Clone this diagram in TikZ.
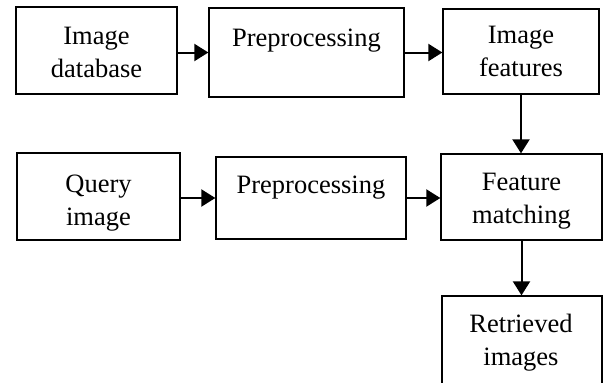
\documentclass[tikz,border=0pt]{standalone}
\usepackage{fontspec}
\setmainfont{Liberation Serif}
\usetikzlibrary{arrows.meta}
\begin{document}
\begin{tikzpicture}[x=1pt,y=1pt,
  box/.style={draw=black,line width=1.3pt,rectangle,inner sep=0pt},
  lbl/.style={anchor=base,text width=160pt,align=center,inner sep=0pt,font=\fontsize{26.5}{33}\selectfont},
  conn/.style={line width=2pt,-{Triangle[length=14pt,width=17pt]}}]
\useasboundingbox (0,0) rectangle (606,-383);
\clip (0,0) rectangle (606,-383);
% boxes
\node[box,minimum width=161pt,minimum height=87pt] (A) at (96.5,-50.5) {};
\node[box,minimum width=195pt,minimum height=89pt] (B) at (306.5,-52.5) {};
\node[box,minimum width=156pt,minimum height=85pt] (C) at (521,-51.5) {};
\node[box,minimum width=163pt,minimum height=87pt] (D) at (98.5,-196.5) {};
\node[box,minimum width=190pt,minimum height=82pt] (E) at (311,-198) {};
\node[box,minimum width=161pt,minimum height=86pt] (F) at (521.5,-197) {};
\node[box,minimum width=160pt,minimum height=92pt] (G) at (522,-342) {};
% labels
\node[lbl] (At) at (96.5,-44) {Image\\database};
\node[lbl] (Bt) at (306.5,-46) {Preprocessing};
\node[lbl] (Ct) at (521,-43) {Image\\features};
\node[lbl] (Dt) at (98.5,-192) {Query\\image};
\node[lbl] (Et) at (311,-193) {Preprocessing};
\node[lbl] (Ft) at (521.5,-190) {Feature\\matching};
\node[lbl] (Gt) at (521,-332) {Retrieved\\images};
% connectors
\draw[conn] (A.east |- B.west) -- (B.west);
\draw[conn] (B.east) -- (B.east -| C.west);
\draw[conn] (C.south) -- (C.south |- F.north);
\draw[conn] (D.east |- E.west) -- (E.west);
\draw[conn] (E.east) -- (E.east -| F.west);
\draw[conn] (F.south) -- (F.south |- G.north);
\end{tikzpicture}
\end{document}
